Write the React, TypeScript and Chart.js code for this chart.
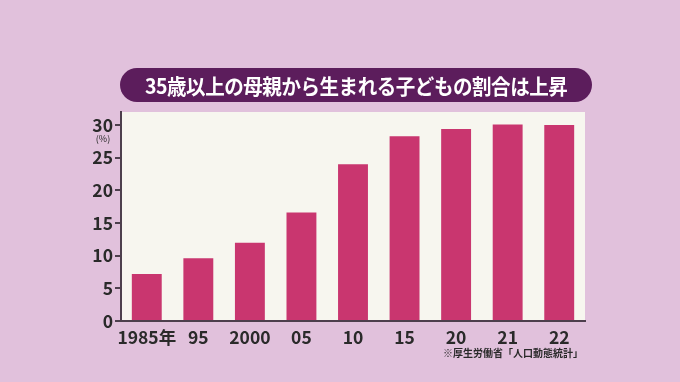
import React, { useEffect, useRef } from "react";
import { Chart, registerables } from "chart.js";
Chart.register(...registerables);

const categories = ["1985年", "95", "2000", "05", "10", "15", "20", "21", "22"];
const shares = [7.2, 9.6, 12.0, 16.6, 24.0, 28.3, 29.4, 30.1, 30.0];
const yTicks = [0, 5, 10, 15, 20, 25, 30];
const title = "35歳以上の母親から生まれる子どもの割合は上昇";
const source = "※厚生労働省「人口動態統計」";
const unit = "(%)";

const FONT = "'Liberation Sans Narrow', 'Noto Sans CJK JP', sans-serif";

export default function App() {
  const ref = useRef<HTMLCanvasElement>(null);
  useEffect(() => {
    const bg = {
      id: "plotbg",
      beforeDraw(chart: any) {
        const { ctx, chartArea: a } = chart;
        ctx.save();
        ctx.fillStyle = "#f7f6ef";
        ctx.fillRect(a.left, a.top, a.right - a.left, a.bottom - a.top);
        ctx.restore();
      },
    };
    const chart = new Chart(ref.current!, {
      type: "bar",
      data: {
        labels: categories,
        datasets: [
          {
            data: shares,
            backgroundColor: "#c9366f",
            barPercentage: 0.58,
            categoryPercentage: 1,
          },
        ],
      },
      options: {
        animation: false,
        responsive: false,
        layout: { padding: { top: 112, right: 95, left: 0, bottom: 0 } },
        plugins: { legend: { display: false }, tooltip: { enabled: false } },
        scales: {
          x: {
            grid: { display: false },
            border: { display: true, color: "#4d3f4d", width: 2 },
            ticks: {
              color: "#2a2a2a",
              font: { family: FONT, size: 17.5, weight: "bold" },
              padding: -2,
              maxRotation: 0,
              autoSkip: false,
            },
            afterFit(s: any) {
              s.height = 61;
            },
          },
          y: {
            min: 0,
            max: 32,
            afterBuildTicks(s: any) {
              s.ticks = yTicks.map((v) => ({ value: v }));
            },
            grid: {
              drawOnChartArea: false,
              tickLength: 6,
              color: "#4d3f4d",
              lineWidth: 2,
            },
            border: { display: true, color: "#4d3f4d", width: 2 },
            ticks: {
              color: "#2a2a2a",
              font: { family: FONT, size: 17.5, weight: "bold" },
              padding: 2,
            },
            afterFit(s: any) {
              s.width = 121;
            },
          },
        },
      },
      plugins: [bg],
    });
    return () => chart.destroy();
  }, []);

  return (
    <div
      style={{
        position: "absolute",
        left: 0,
        top: 0,
        width: 680,
        height: 382,
        background: "#e1c1dc",
        overflow: "hidden",
      }}
    >
      <canvas ref={ref} width={680} height={382} style={{ position: "absolute", left: 0, top: 0 }} />
      <div
        style={{
          position: "absolute",
          left: 120,
          top: 68,
          width: 472,
          height: 34,
          borderRadius: 17,
          background: "#5c1d5c",
          display: "flex",
          alignItems: "center",
          justifyContent: "center",
          overflow: "hidden",
        }}
      >
        <span
          style={{
            color: "#ffffff",
            fontFamily: "'Noto Sans CJK JP', sans-serif",
            fontWeight: 700,
            fontSize: 21,
            whiteSpace: "nowrap",
            display: "inline-block",
            transform: "scaleX(0.93)",
            letterSpacing: -0.5,
          }}
        >
          {title}
        </span>
      </div>
      <div
        style={{
          position: "absolute",
          left: 88,
          top: 132,
          width: 30,
          textAlign: "center",
          fontFamily: "'Noto Sans CJK JP', sans-serif",
          fontSize: 9,
          color: "#2a2a2a",
        }}
      >
        {unit}
      </div>
      <div
        style={{
          position: "absolute",
          right: 97,
          top: 345,
          fontFamily: "'Noto Sans CJK JP', sans-serif",
          fontWeight: 700,
          fontSize: 10,
          color: "#2a2a2a",
          whiteSpace: "nowrap",
        }}
      >
        {source}
      </div>
    </div>
  );
}
